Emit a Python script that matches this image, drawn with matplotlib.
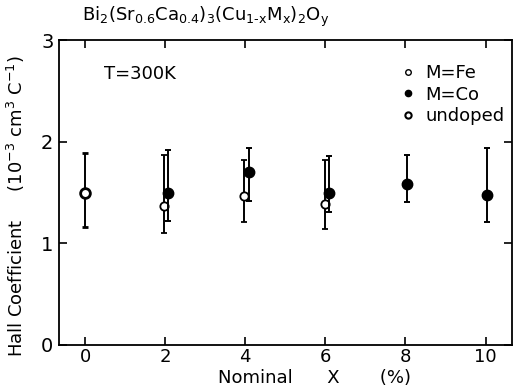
import numpy as np
import matplotlib.pyplot as plt
from matplotlib.lines import Line2D

plt.rcParams['font.family'] = ['DejaVu Sans']
plt.rcParams['mathtext.fontset'] = 'dejavusans'

# undoped
x_un = [0.0]
y_un = [1.50]
lo_un = [1.16]
hi_un = [1.89]

# M = Fe (open)
x_fe = [1.98, 3.98, 5.98]
y_fe = [1.37, 1.47, 1.39]
lo_fe = [1.10, 1.21, 1.14]
hi_fe = [1.87, 1.82, 1.82]

# M = Co (filled)
x_co = [2.06, 4.09, 6.08, 8.04, 10.04]
y_co = [1.50, 1.70, 1.50, 1.58, 1.48]
lo_co = [1.22, 1.42, 1.31, 1.41, 1.21]
hi_co = [1.92, 1.94, 1.86, 1.87, 1.94]

xticks = [0, 2, 4, 6, 8, 10]
yticks = [0, 1, 2, 3]

fig = plt.figure(figsize=(5.13, 3.89), dpi=100)
ax = fig.add_axes([59/513, 44/389, 453/513, 305/389])


def err(y, lo, hi):
    y = np.array(y)
    return [y - np.array(lo), np.array(hi) - y]


ax.errorbar(x_fe, y_fe, yerr=err(y_fe, lo_fe, hi_fe), fmt='o', mfc='white',
            mec='black', ms=6, mew=1.3, ecolor='black', elinewidth=1.4,
            capsize=2.3, capthick=1.4, zorder=3)
ax.errorbar(x_co, y_co, yerr=err(y_co, lo_co, hi_co), fmt='o', mfc='black',
            mec='black', ms=7.5, ecolor='black', elinewidth=1.4,
            capsize=2.3, capthick=1.4, zorder=4)
ax.errorbar(x_un, y_un, yerr=err(y_un, lo_un, hi_un), fmt='o', mfc='white',
            mec='black', ms=7, mew=2, ecolor='black', elinewidth=1.4,
            capsize=2.3, capthick=1.4, zorder=3)

ax.set_xlim(-0.65, 10.66)
ax.set_ylim(0, 3)
ax.set_xticks(xticks)
ax.set_yticks(yticks)
ax.tick_params(direction='in', top=True, right=True, length=6, width=1.2,
               labelsize=13, pad=2)
ax.tick_params(axis='y', labelsize=14, pad=4)
for s in ax.spines.values():
    s.set_linewidth(1.3)

ax.set_xlabel('Nominal      X       (%)', fontsize=13)
ax.xaxis.set_label_coords(0.565, -0.078, transform=ax.transAxes)
ax.set_ylabel('Hall Coefficient     (10$^{-3}$ cm$^{3}$ C$^{-1}$)',
              fontsize=13)
ax.yaxis.set_label_coords(-0.07, 0.455, transform=ax.transAxes)
fig.text(82/513, 1 - 17/389,
         'Bi$_{2}$(Sr$_{0.6}$Ca$_{0.4}$)$_{3}$(Cu$_{\\mathrm{1\u2011x}}$'
         'M$_{\\mathrm{x}}$)$_{2}$O$_{\\mathrm{y}}$',
         fontsize=13, va='center', ha='left')
ax.text(0.1, 0.89, 'T=300K', transform=ax.transAxes, fontsize=13,
        va='center', ha='left')

handles = [
    Line2D([], [], ls='none', marker='o', mfc='white', mec='black', ms=4, mew=1),
    Line2D([], [], ls='none', marker='o', mfc='black', mec='black', ms=4.5),
    Line2D([], [], ls='none', marker='o', mfc='white', mec='black', ms=4.5, mew=1.5),
]
ax.legend(handles, ['M=Fe', 'M=Co', 'undoped'], loc='upper right',
          frameon=False, fontsize=13, handlelength=0.8, handletextpad=0.6,
          labelspacing=0.2, borderaxespad=0.0, bbox_to_anchor=(1.0, 0.945))

fig.savefig('out.png', dpi=100)
